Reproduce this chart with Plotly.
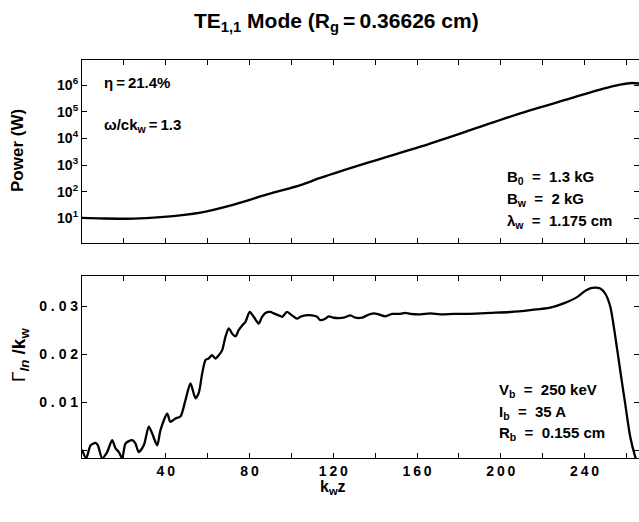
import plotly.graph_objects as go

# ---------------- data ----------------
kz_power = [0, 10, 24.6, 37.5, 56.6, 72.5, 88.4, 104.3, 113.8, 137.7, 161.6,
            185.4, 209.3, 233.2, 249.0, 257.0, 262.6, 266.0]
power_w = [10.5, 10.0, 9.8, 11.2, 16.6, 33.1, 79.4, 178, 331, 1318, 4898,
           20417, 87096, 316228, 741310, 1047129, 1202264, 1148154]

kz_growth = [0, 2.0, 4.1, 6.4, 7.6, 9.6, 12.0, 14.4, 16.0, 17.6, 19.2, 20.8, 24.0, 25.5,
             27.1, 29.5, 31.9, 33.5, 35.9, 37.5, 40.7, 42.2, 44.6, 47.0, 49.4, 51.8, 54.2,
             55.8, 57.4, 59.0, 60.5, 62.1, 63.7, 65.3, 66.9, 68.5, 70.1, 71.7, 73.3, 74.8,
             76.5, 78.0, 80.1, 82.0, 84.4, 86.0, 87.6, 90.0, 91.6, 93.9, 95.6, 97.9, 100.3,
             102.7, 104.3, 106.7, 109.9, 112.3, 113.8, 116.2, 117.8, 120.2, 125.0, 128.2,
             130.5, 133.7, 136.1, 139.3, 141.7, 144.9, 148.1, 152.0, 154.4, 156.8, 161.6,
             166.3, 171.1, 177.5, 183.9, 190.2, 195.0, 204.5, 214.1, 223.6, 230.0, 236.4,
             240.3, 243.5, 247.5, 249.9, 252.3, 254.7, 257.0, 259.4, 261.8, 264.2, 265.8]
growth = [0.0001, -0.0017, 0.0010, 0.0015, 0.0010, -0.0017, -0.0004, 0.0021, 0.0004,
          -0.0004, -0.0017, 0.0014, 0.0021, 0.0014, -0.0004, 0.0010, 0.0049, 0.0035,
          0.0010, 0.0042, 0.0076, 0.0059, 0.0066, 0.0070, 0.0104, 0.0139, 0.0108, 0.0120,
          0.0160, 0.0188, 0.0191, 0.0198, 0.0191, 0.0198, 0.0208, 0.0236, 0.0254, 0.0243,
          0.0237, 0.0250, 0.0260, 0.0267, 0.0288, 0.0278, 0.0264, 0.0278, 0.0286, 0.0288,
          0.0285, 0.0281, 0.0278, 0.0288, 0.0281, 0.0274, 0.0278, 0.0281, 0.0281, 0.0278,
          0.0271, 0.0274, 0.0279, 0.0276, 0.0276, 0.0281, 0.0276, 0.0276, 0.0281, 0.0285,
          0.0283, 0.0279, 0.0284, 0.0284, 0.0286, 0.0284, 0.0283, 0.0285, 0.0283, 0.0284,
          0.0284, 0.0285, 0.0286, 0.0288, 0.0292, 0.0297, 0.0306, 0.0319, 0.0332, 0.0338,
          0.0337, 0.0326, 0.0299, 0.0236, 0.0167, 0.0097, 0.0028, -0.0014, -0.0035]

x_ticks = [0, 20, 40, 60, 80, 100, 120, 140, 160, 180, 200, 220, 240, 260]
x_labels = ["", "", "4\u20090", "", "8\u20090", "", "1\u20092\u20090", "", "1\u20096\u20090", "",
            "2\u20090\u20090", "", "2\u20094\u20090", ""]
p_ticks = [1e1, 1e2, 1e3, 1e4, 1e5, 1e6]
p_labels = ["10<sup>1</sup>", "10<sup>2</sup>", "10<sup>3</sup>", "10<sup>4</sup>",
            "10<sup>5</sup>", "10<sup>6</sup>"]
g_ticks = [0, 0.01, 0.02, 0.03]
g_labels = ["", "0 . 0 1", "0 . 0 2", "0 . 0 3"]

title_text = "TE<sub>1,1</sub> Mode (R<sub>g</sub>\u2009=\u20090.36626 cm)"
left_notes = ["\u03b7\u2009=\u200921.4%", "\u03c9/ck<sub>w</sub>\u2009=\u20091.3"]
field_notes = ["B<sub>0</sub>\u00a0 =\u00a0 1.3 kG", "B<sub>w</sub>\u00a0 =\u00a0 2 kG",
               "\u03bb<sub>w</sub>\u00a0 =\u00a0 1.175 cm"]
beam_notes = ["V<sub>b</sub>\u00a0 =\u00a0 250 keV", "I<sub>b</sub>\u00a0 =\u00a0 35 A",
              "R<sub>b</sub>\u00a0 =\u00a0 0.155 cm"]

# ---------------- layout geometry ----------------
W, H = 639, 522
L = 82
FONT = "Liberation Sans, Arial, sans-serif"


def px(x):
    return (x - L) / (W - L)


def py(y):
    return 1 - y / H


fig = go.Figure()
fig.add_trace(go.Scatter(x=kz_power, y=power_w, mode="lines",
                         line=dict(color="black", width=2.4, shape="spline", smoothing=0.8),
                         xaxis="x", yaxis="y", showlegend=False))
fig.add_trace(go.Scatter(x=kz_growth, y=growth, mode="lines",
                         line=dict(color="black", width=2.3, shape="spline", smoothing=0.7),
                         xaxis="x2", yaxis="y2", showlegend=False))

axis_common = dict(showline=True, linecolor="black", linewidth=1.2, mirror="ticks",
                   ticks="inside", ticklen=5, tickwidth=1, tickcolor="black",
                   showgrid=False, zeroline=False,
                   tickfont=dict(family=FONT, size=14, color="black", weight="bold"))

fig.update_layout(
    width=W, height=H,
    margin=dict(l=L, r=0, t=0, b=0),
    paper_bgcolor="white", plot_bgcolor="white",
    xaxis=dict(axis_common, range=[0, 266], domain=[0, 1], anchor="y",
               tickvals=x_ticks, showticklabels=False),
    yaxis=dict(axis_common, type="log", range=[0.09, 6.96], domain=[py(242.7), py(59.5)],
               anchor="x", tickvals=p_ticks, ticktext=p_labels),
    xaxis2=dict(axis_common, range=[0, 266], domain=[0, 1], anchor="y2",
                tickvals=x_ticks, ticktext=x_labels),
    yaxis2=dict(axis_common, range=[-0.0017, 0.0363], domain=[py(458.3), py(276)],
                anchor="x2", tickvals=g_ticks, ticktext=g_labels),
)

ann = []
ann.append(dict(text="<b>" + title_text + "</b>", x=px(336), y=py(22),
                font=dict(family=FONT, size=21, color="black")))
ann.append(dict(text="<b>Power (W)</b>", x=px(17), y=py(151), textangle=-90,
                font=dict(family=FONT, size=17, color="black")))
ann.append(dict(text="\u0393<sub><b><i>ln</i></b></sub><b> /k<sub>w</sub></b>", x=px(20), y=py(355),
                textangle=-90, font=dict(family=FONT, size=19, color="black")))
ann.append(dict(text="<b>k<sub>w</sub>z</b>", x=px(333), y=py(487),
                font=dict(family=FONT, size=16, color="black")))
for t, yy in zip(left_notes, [82, 125]):
    ann.append(dict(text="<b>" + t + "</b>", x=px(102), y=py(yy), xanchor="left",
                    font=dict(family=FONT, size=15, color="black")))
for t, yy in zip(field_notes, [177.7, 199.5, 221.7]):
    ann.append(dict(text="<b>" + t + "</b>", x=px(505), y=py(yy), xanchor="left",
                    font=dict(family=FONT, size=15, color="black")))
for t, yy in zip(beam_notes, [390.5, 412, 433.5]):
    ann.append(dict(text="<b>" + t + "</b>", x=px(497), y=py(yy), xanchor="left",
                    font=dict(family=FONT, size=15, color="black")))
for a in ann:
    a.setdefault("xanchor", "center")
    a.update(xref="paper", yref="paper", yanchor="middle", showarrow=False)
fig.update_layout(annotations=ann)

fig.write_html("out.html")
